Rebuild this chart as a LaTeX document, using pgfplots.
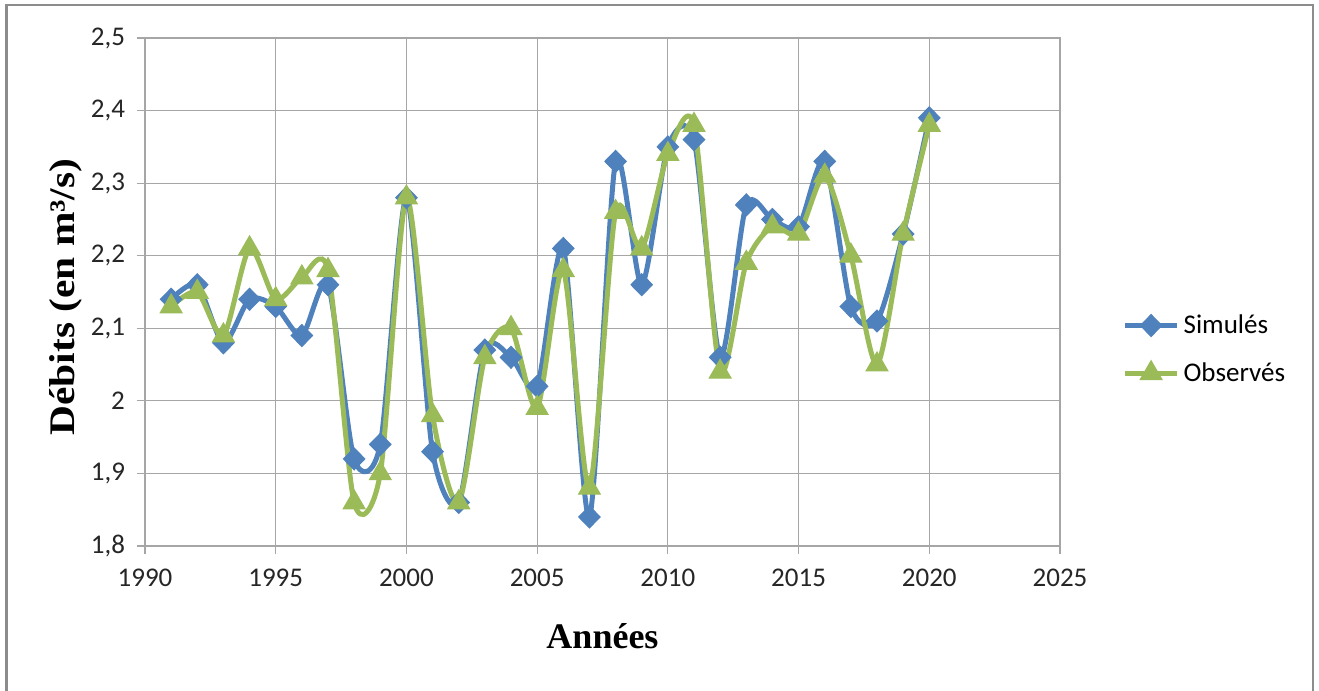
\documentclass[border=0pt]{standalone}
\usepackage{pgfplots}
\pgfplotsset{compat=1.18}
\usepackage{pgfplotstable}
\usepackage{fontspec}
\setmainfont{Carlito}
\newfontfamily\timesfont{Liberation Serif}
\definecolor{sblue}{HTML}{4F81BD}
\definecolor{sgreen}{HTML}{9BBB59}
\definecolor{gridgray}{HTML}{A6A6A6}
\definecolor{framegray}{HTML}{8C8C8C}
\pgfplotstableread{
year sim obs
1991 2.14 2.13
1992 2.16 2.15
1993 2.08 2.09
1994 2.14 2.21
1995 2.13 2.14
1996 2.09 2.17
1997 2.16 2.18
1998 1.92 1.86
1999 1.94 1.90
2000 2.28 2.28
2001 1.93 1.98
2002 1.86 1.86
2003 2.07 2.06
2004 2.06 2.10
2005 2.02 1.99
2006 2.21 2.18
2007 1.84 1.88
2008 2.33 2.26
2009 2.16 2.21
2010 2.35 2.34
2011 2.36 2.38
2012 2.06 2.04
2013 2.27 2.19
2014 2.25 2.24
2015 2.24 2.23
2016 2.33 2.31
2017 2.13 2.20
2018 2.11 2.05
2019 2.23 2.23
2020 2.39 2.38
}\datatable
\begin{document}
\begin{tikzpicture}
\path[use as bounding box] (0,0) rectangle (659.5pt,345.5pt);
\fill[white] (0,0) rectangle (659.5pt,345.5pt);
\draw[framegray, line width=1.2pt] (3.2pt,-2pt) -- (3.2pt,343pt) -- (656.5pt,343pt) -- (656.5pt,-2pt);
\begin{axis}[
  at={(72.5pt,72.5pt)}, anchor=south west,
  scale only axis, width=457.5pt, height=254pt,
  xmin=1990, xmax=2025, ymin=1.8, ymax=2.5,
  xtick={1990,1995,...,2025},
  ytick={1.8,1.9,2.0,2.1,2.2,2.3,2.4,2.5},
  grid=major,
  major grid style={gridgray, line width=0.6pt},
  axis line style={gridgray, line width=0.6pt},
  tick style={gridgray, line width=0.6pt},
  tick align=outside, major tick length=4pt,
  xtick pos=bottom, ytick pos=left,
  /pgf/number format/assume math mode=true,
  /pgf/number format/use comma,
  /pgf/number format/1000 sep={},
  yticklabel style={/pgf/number format/fixed, /pgf/number format/precision=1, xshift=-2.5pt},
  ticklabel style={font=\fontsize{13.5pt}{15pt}\selectfont, text=black!85},
  xticklabel style={yshift=-4pt},
  xlabel={\timesfont\bfseries Années},
  ylabel={\timesfont\bfseries Débits (en m³/s)},
  label style={font=\fontsize{18pt}{20pt}\selectfont},
  xlabel style={at={(axis description cs:0.5,-0.177)}, anchor=center},
  ylabel style={at={(axis description cs:-0.087,0.49)}, anchor=center, xscale=1.15},
  legend style={at={(1.068,0.387)}, anchor=west, draw=none, fill=none,
    font=\fontsize{13.5pt}{15pt}\selectfont, row sep=9pt, inner sep=0pt,
    /tikz/every even column/.append style={column sep=2pt}},
  legend cell align=left,
  legend image code/.code={
    \draw[#1, mark repeat=2, mark phase=2] plot coordinates {(0pt,0pt) (13pt,0pt) (26pt,0pt)};
  },
]
\addplot[sblue, line width=2.5pt, smooth, tension=0.45, mark=diamond*, mark size=5.5pt,
  mark options={solid, line width=0.5pt, xscale=1.3}] table[x=year, y=sim] {\datatable};
\addlegendentry{Simulés}
\addplot[sgreen, line width=2.5pt, smooth, tension=0.45, mark=triangle*, mark size=6.3pt,
  mark options={solid, line width=0.5pt}] table[x=year, y=obs] {\datatable};
\addlegendentry{Observés}
\end{axis}
\end{tikzpicture}
\end{document}
